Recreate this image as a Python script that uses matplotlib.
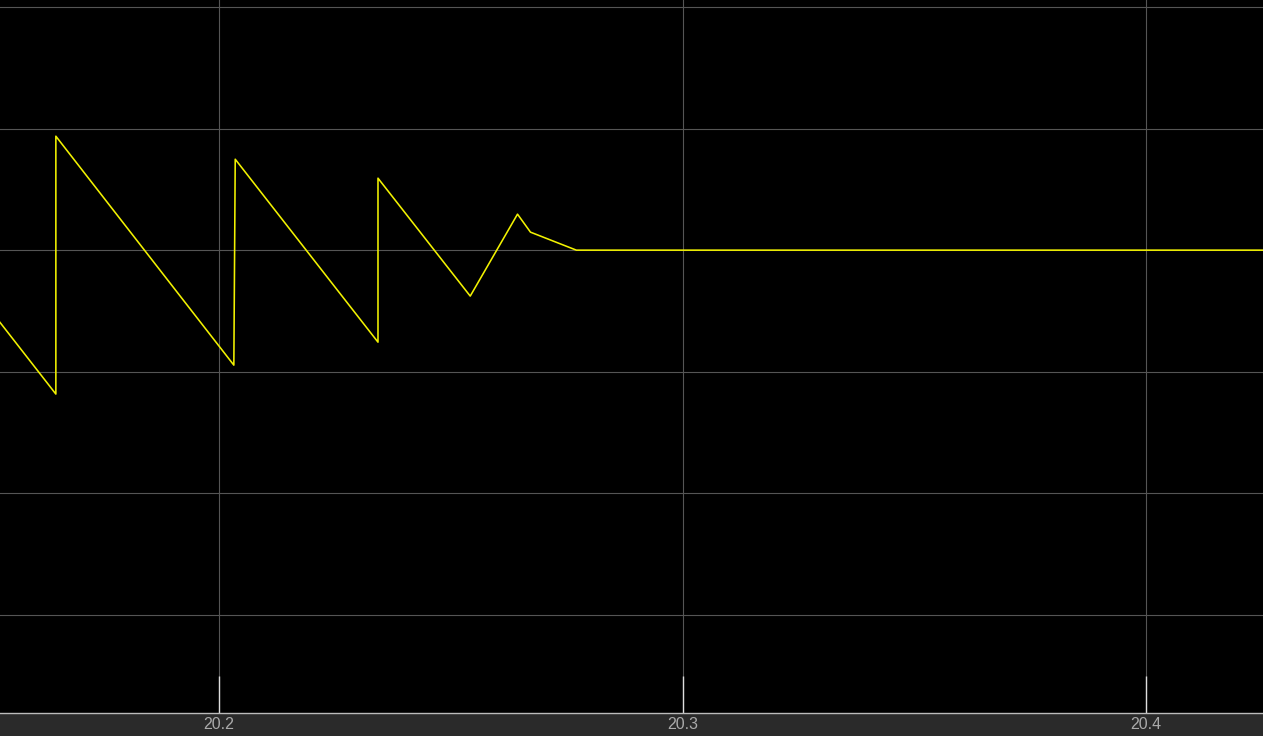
import matplotlib
matplotlib.use("Agg")
import matplotlib.pyplot as plt
import numpy as np

# signal samples (time in s, amplitude in grid units)
t = [20.1527, 20.1648, 20.1648, 20.2032, 20.2035, 20.2343, 20.2343,
     20.2542, 20.2644, 20.2672, 20.2771, 20.4255]
v = [-0.592, -1.184, 0.9375, -0.946, 0.748, -0.757, 0.592,
     -0.378, 0.296, 0.148, 0.0, 0.0]

xticks = [20.2, 20.3, 20.4]
xtick_labels = ["20.2", "20.3", "20.4"]
yticks = [-3, -2, -1, 0, 1, 2]

plt.rcParams["font.family"] = ["Liberation Sans", "DejaVu Sans"]

fig = plt.figure(figsize=(12.63, 7.36), dpi=100, facecolor="#2a2a2a")
ax = fig.add_axes([0, 23 / 736, 1, 1 - 23 / 736])
ax.set_facecolor("black")

ax.plot(t, v, color="#f2f200", linewidth=1.15, zorder=3)

ax.set_xlim(20.15275, 20.42524)
ax.set_ylim(-3.808, 2.058)

ax.set_xticks(xticks)
ax.set_xticklabels(xtick_labels)
ax.set_yticks(yticks)
ax.set_yticklabels([])
ax.grid(True, color="#555555", linewidth=0.8)

# ticks are ~37 px long, pointing up into the plot
ax.tick_params(axis="x", direction="in", length=26.6, width=1, color="#dddddd",
               labelcolor="#aaaaaa", labelsize=11.5, pad=3)
ax.tick_params(axis="y", length=0)

for side in ["top", "left", "right"]:
    ax.spines[side].set_visible(False)
ax.spines["bottom"].set_color("#bbbbbb")
ax.spines["bottom"].set_linewidth(1)

fig.savefig("out.png", dpi=100, facecolor=fig.get_facecolor())
